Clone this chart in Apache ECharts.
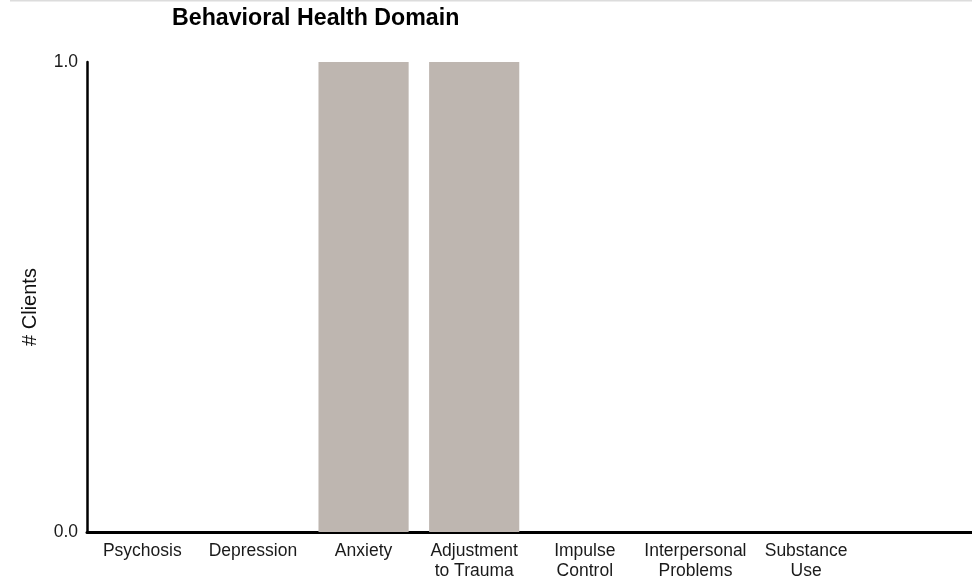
<!DOCTYPE html>
<html>
<head>
<meta charset="utf-8">
<script src="https://cdn.jsdelivr.net/npm/echarts@6/dist/echarts.min.js"></script>
<style>html,body{margin:0;padding:0;background:#fff}#c{width:972px;height:586px}</style>
</head>
<body>
<div id="c"></div>
<script>
var categories = ['Psychosis', 'Depression', 'Anxiety', 'Adjustment\nto Trauma', 'Impulse\nControl', 'Interpersonal\nProblems', 'Substance\nUse', ''];
var clients = [0, 0, 1, 1, 0, 0, 0, 0];
var yTicks = [0, 1];
var titleText = 'Behavioral Health Domain';
var yName = '# Clients';

var FONT = '"Liberation Sans", Arial, sans-serif';
var chart = echarts.init(document.getElementById('c'), null, {renderer: 'canvas'});
chart.setOption({
  animation: false,
  backgroundColor: '#fff',
  title: {
    text: titleText,
    left: 167, top: 2,
    textStyle: {fontFamily: FONT, fontSize: 23.2, fontWeight: 'bold', color: '#000'}
  },
  graphic: [
    {type: 'rect', shape: {x: 10, y: 0, width: 962, height: 1.5}, style: {fill: '#dcdcdc'}},
    {type: 'text', x: 30, y: 307, rotation: Math.PI / 2,
     style: {text: yName, font: '20px ' + FONT, fill: '#111', align: 'center', verticalAlign: 'middle'}}
  ],
  grid: {left: 87, right: 0, top: 62, bottom: 54, containLabel: false},
  xAxis: {
    type: 'category',
    data: categories,
    axisLine: {show: true, lineStyle: {color: '#000', width: 3}},
    axisTick: {show: false},
    axisLabel: {interval: 0, margin: 9, fontFamily: FONT, fontSize: 17.5, lineHeight: 20, color: '#1a1a1a'}
  },
  yAxis: {
    type: 'value',
    min: yTicks[0], max: yTicks[yTicks.length - 1], interval: 1,
    axisLine: {show: true, lineStyle: {color: '#000', width: 2.5}},
    axisTick: {show: false},
    splitLine: {show: false},
    axisLabel: {margin: 9, fontFamily: FONT, fontSize: 17.5, color: '#1a1a1a',
      formatter: function (v) { return v.toFixed(1); }}
  },
  series: [{
    type: 'bar',
    data: clients,
    barCategoryGap: '18.5%',
    itemStyle: {color: '#beb6b0'}
  }]
});
</script>
</body>
</html>
